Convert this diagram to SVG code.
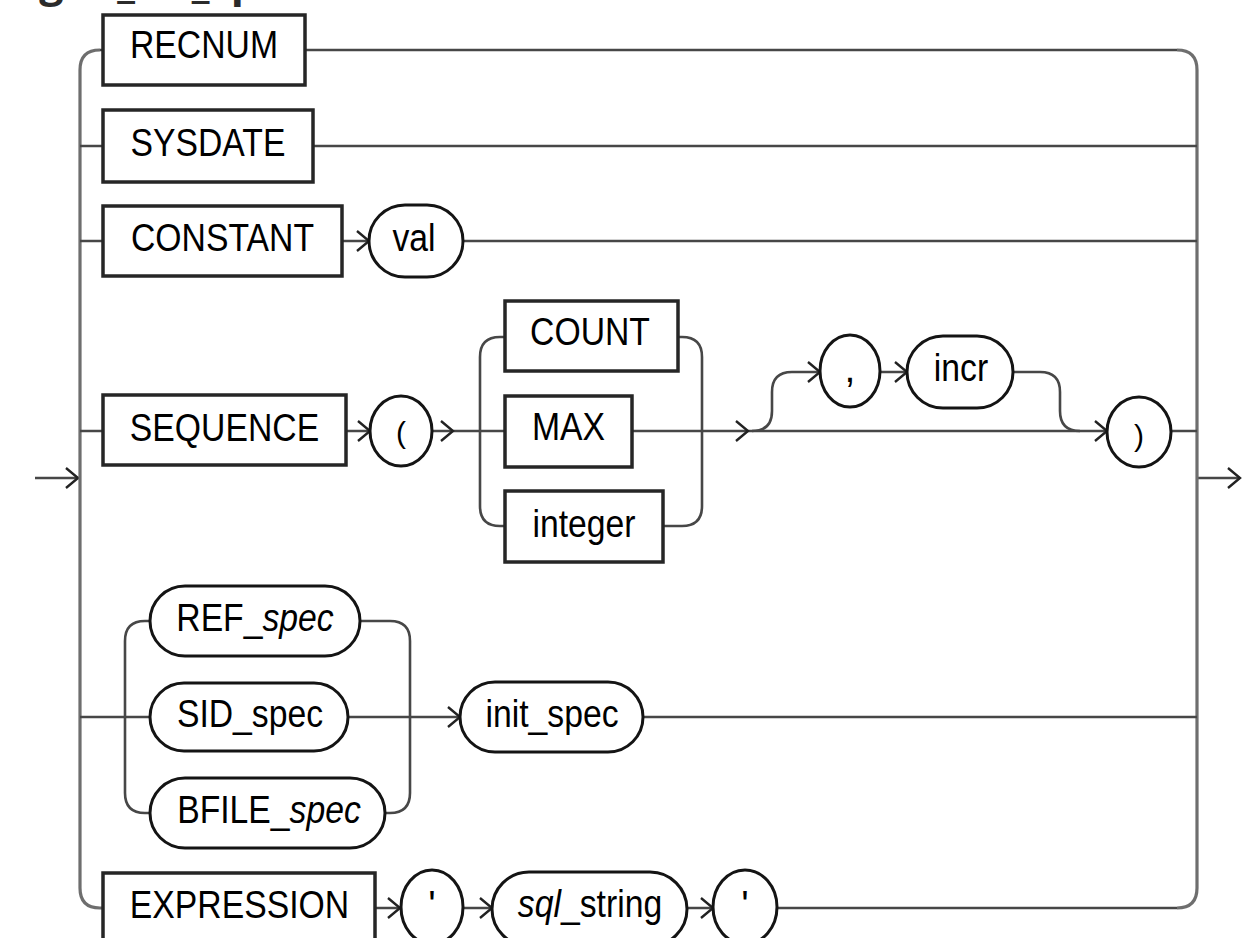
<svg xmlns="http://www.w3.org/2000/svg" xmlns:xlink="http://www.w3.org/1999/xlink" width="1244" height="938" viewBox="0 0 1244 938">
<style>
.box{fill:#fff;stroke:#262626;stroke-width:3.5}
.ov{fill:#fff;stroke:#141414;stroke-width:3}
.t{font-family:"Liberation Sans",Arial,sans-serif;font-size:39px;fill:#000;text-anchor:middle}
.i{font-style:italic}
.p{font-family:"Liberation Sans",Arial,sans-serif;font-size:30px;fill:#000;text-anchor:middle}
.ln{fill:none;stroke:#474747;stroke-width:2.6}
.rail{fill:none;stroke:#6e6e6e;stroke-width:3.2}
.ch{fill:none;stroke:#222;stroke-width:2.4}
.ttl{font-family:"Open Sans","Noto Sans",sans-serif;font-size:43px;font-weight:700;fill:#2b2b2b}
</style>
<defs>
<path id="chev" class="ch" d="M-12,-10 L0,0 L-12,10"/>
</defs>
<rect width="1244" height="938" fill="#fff"/>
<text class="ttl" x="12" y="-3">dgen_fld_spec::=</text>

<g id="connectors">
<path class="ln" d="M35,478 H80"/>
<use xlink:href="#chev" x="78" y="478"/>
<path class="ln" d="M1197,478 H1240"/>
<use xlink:href="#chev" x="1240" y="478"/>
<path class="rail" d="M100,50 Q80,50 80,70 V888 Q80,908 100,908 H103"/>
<path class="rail" d="M1177,50 Q1197,50 1197,70 V888 Q1197,908 1177,908"/>
<path class="ln" d="M100,50 H103 M305,50 H1177"/>
<path class="ln" d="M80,146 H103 M313,146 H1197"/>
<path class="ln" d="M80,241 H103 M342,241 H369 M463,241 H1197"/>
<use xlink:href="#chev" x="369" y="241"/>
<path class="ln" d="M80,431 H103 M346,431 H370 M432,431 H505 M632,431 H1107 M1171,431 H1197"/>
<use xlink:href="#chev" x="370" y="431"/>
<use xlink:href="#chev" x="453" y="431"/>
<path class="ln" d="M505,337 H500 Q480,337 480,357 V506 Q480,526 500,526 H505"/>
<path class="ln" d="M678,337 H682 Q702,337 702,357 V506 Q702,526 682,526 H663"/>
<use xlink:href="#chev" x="748" y="431"/>
<path class="ln" d="M752,431 Q772,431 772,411 V392 Q772,372 792,372 H820 M880,372 H907 M1013,372 H1040 Q1060,372 1060,392 V411 Q1060,431 1080,431"/>
<use xlink:href="#chev" x="820" y="372"/>
<use xlink:href="#chev" x="907" y="372"/>
<use xlink:href="#chev" x="1107" y="431"/>
<path class="ln" d="M80,717 H150 M348,717 H460 M643,717 H1197"/>
<path class="ln" d="M150,621 H145 Q125,621 125,641 V793 Q125,813 145,813 H150"/>
<path class="ln" d="M360,621 H390 Q410,621 410,641 V793 Q410,813 390,813 H385"/>
<use xlink:href="#chev" x="460" y="717"/>
<path class="ln" d="M375,908 H400 M463,908 H492 M687,908 H713 M777,908 H1177"/>
<use xlink:href="#chev" x="400" y="908"/>
<use xlink:href="#chev" x="492" y="908"/>
<use xlink:href="#chev" x="713" y="908"/>
</g>

<g id="n-recnum"><rect class="box" x="103" y="15" width="202" height="70"/><text class="t" transform="translate(204,58) scale(0.865,1)">RECNUM</text></g>
<g id="n-sysdate"><rect class="box" x="103" y="110" width="210" height="72"/><text class="t" transform="translate(208,156) scale(0.865,1)">SYSDATE</text></g>
<g id="n-constant"><rect class="box" x="103" y="206" width="239" height="70"/><text class="t" transform="translate(222.5,251) scale(0.865,1)">CONSTANT</text></g>
<g id="n-val"><rect class="ov" x="369" y="205" width="94" height="72" rx="36"/><text class="t" transform="translate(414,251) scale(0.865,1)">val</text></g>
<g id="n-sequence"><rect class="box" x="103" y="395" width="243" height="70"/><text class="t" transform="translate(224.5,441) scale(0.865,1)">SEQUENCE</text></g>
<g id="n-lparen"><ellipse class="ov" cx="401" cy="431" rx="31" ry="35"/><text class="p" x="401" y="443">(</text></g>
<g id="n-count"><rect class="box" x="505" y="301" width="173" height="70"/><text class="t" transform="translate(590,345) scale(0.865,1)">COUNT</text></g>
<g id="n-max"><rect class="box" x="505" y="396" width="127" height="71"/><text class="t" transform="translate(568.5,440) scale(0.865,1)">MAX</text></g>
<g id="n-integer"><rect class="box" x="505" y="491" width="158" height="71"/><text class="t" transform="translate(584,537) scale(0.865,1)">integer</text></g>
<g id="n-comma"><ellipse class="ov" cx="850" cy="371" rx="30" ry="36"/><text class="t" x="850" y="382">,</text></g>
<g id="n-incr"><rect class="ov" x="907" y="336" width="106" height="72" rx="36"/><text class="t" transform="translate(961,381) scale(0.865,1)">incr</text></g>
<g id="n-rparen"><ellipse class="ov" cx="1139" cy="432" rx="32" ry="35"/><text class="p" x="1139" y="446">)</text></g>
<g id="n-refspec"><rect class="ov" x="150" y="586" width="210" height="70" rx="35"/><text class="t" transform="translate(255,631) scale(0.865,1)">REF_<tspan class="i">spec</tspan></text></g>
<g id="n-sidspec"><rect class="ov" x="150" y="683" width="198" height="68" rx="34"/><text class="t" transform="translate(250,727) scale(0.865,1)">SID_spec</text></g>
<g id="n-bfilespec"><rect class="ov" x="150" y="778" width="235" height="70" rx="35"/><text class="t" transform="translate(269,823) scale(0.865,1)">BFILE_<tspan class="i">spec</tspan></text></g>
<g id="n-initspec"><rect class="ov" x="460" y="682" width="183" height="70" rx="35"/><text class="t" transform="translate(552,727) scale(0.865,1)">init_spec</text></g>
<g id="n-expression"><rect class="box" x="103" y="873" width="272" height="74"/><text class="t" transform="translate(239.5,918) scale(0.865,1)">EXPRESSION</text></g>
<g id="n-quote1"><ellipse class="ov" cx="432" cy="907" rx="31" ry="37"/><text class="t" x="432" y="918">'</text></g>
<g id="n-sqlstring"><rect class="ov" x="492" y="872" width="195" height="74" rx="37"/><text class="t" transform="translate(590,917) scale(0.865,1)"><tspan class="i">sql</tspan>_string</text></g>
<g id="n-quote2"><ellipse class="ov" cx="745" cy="907" rx="32" ry="37"/><text class="t" x="745" y="918">'</text></g>
</svg>
